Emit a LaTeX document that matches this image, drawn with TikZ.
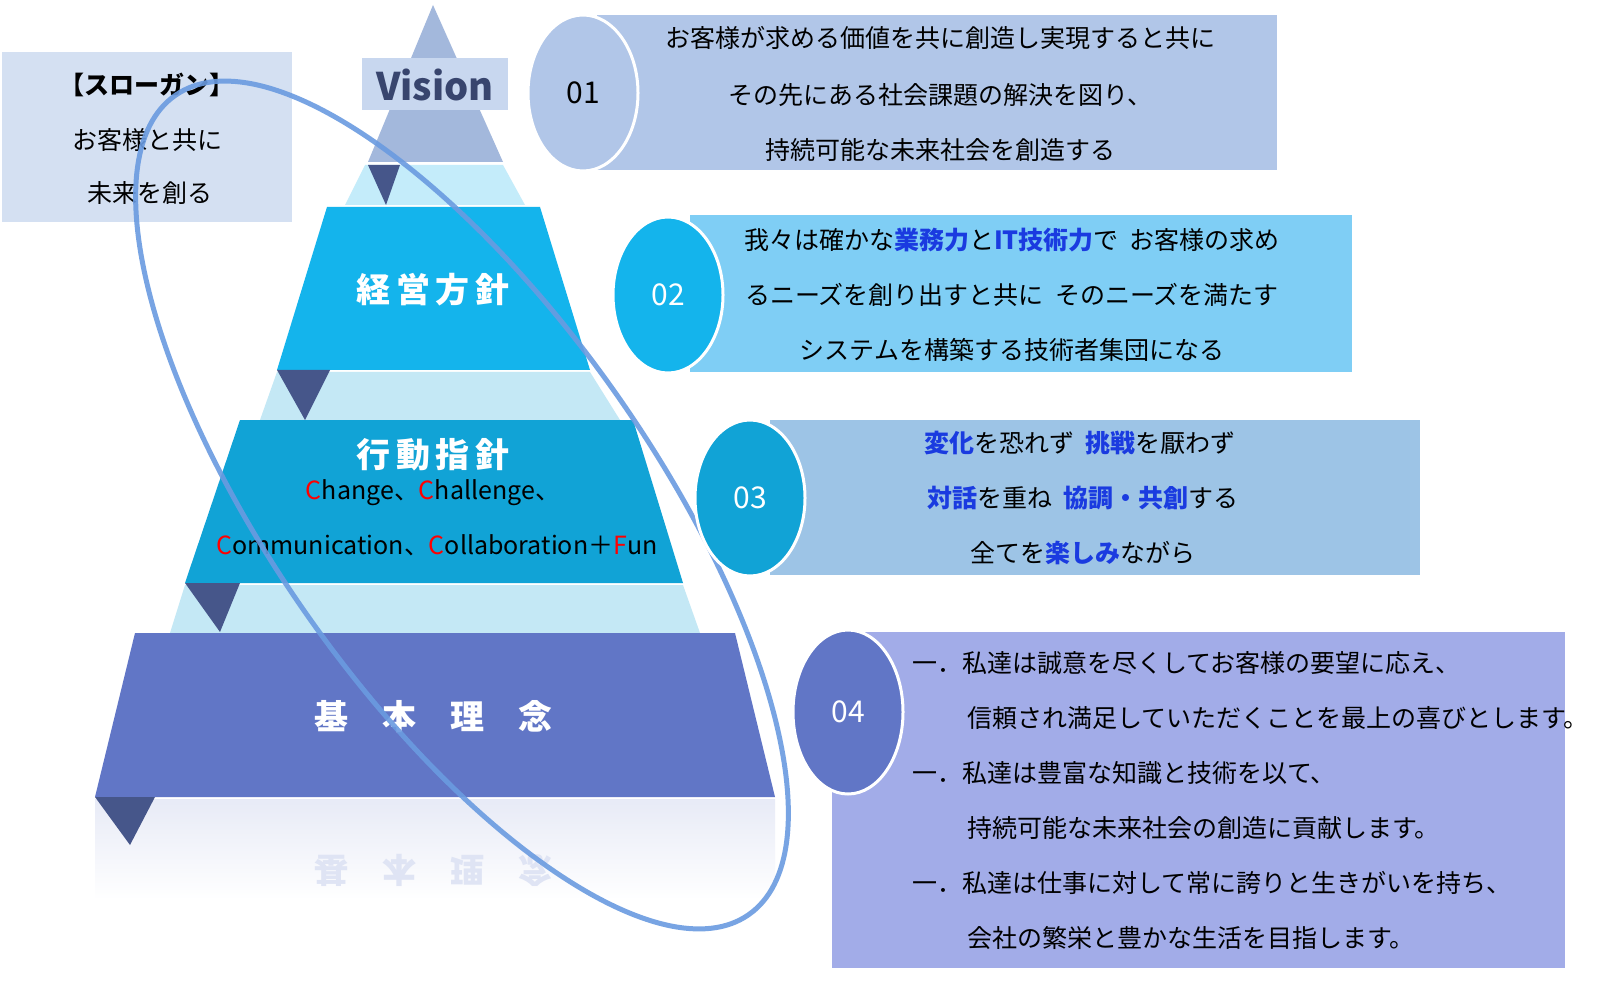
\documentclass[tikz,border=0pt]{standalone}
\usepackage{fontspec}
\setmainfont{Noto Sans CJK JP}
\usetikzlibrary{shapes.geometric}
\definecolor{c1}{HTML}{B1C6E8}
\definecolor{c1d}{HTML}{A3B8DC}
\definecolor{c2}{HTML}{14B4EC}
\definecolor{c2b}{HTML}{7FCEF5}
\definecolor{c3}{HTML}{11A3D6}
\definecolor{c3b}{HTML}{9DC4E6}
\definecolor{c4}{HTML}{6176C6}
\definecolor{c4b}{HTML}{A2ACE8}
\definecolor{dk}{HTML}{46568A}
\definecolor{bl}{HTML}{1A3BE0}
\definecolor{ring}{HTML}{6A9BE0}
\tikzset{
 txt/.style={font=\fontsize{12.5}{14}\selectfont, text=black},
 num/.style={font=\fontsize{15}{17}\selectfont},
 tier/.style={font=\fontsize{17}{20}\bfseries\selectfont, text=white},
 circ/.style={ellipse, draw=white, line width=1.5pt, minimum width=55pt, minimum height=78pt, inner sep=0pt}
}
\newcommand{\bb}[1]{{\bfseries\color{bl}#1}}
\newcommand{\rc}[1]{{\color{red}#1}}
\begin{document}
\begin{tikzpicture}[x=0.5pt,y=-0.5pt]
\useasboundingbox (0,0) rectangle (1600,994);
\fill[white] (0,0) rectangle (1600,994);
% slogan
\fill[c1!55] (2,52) rectangle (292,222);
\node[txt,font=\fontsize{12.5}{14}\bfseries\selectfont] (s1) at (147,85) {【スローガン】};
\node[txt] (s2) at (147,140) {お客様と共に};
\node[txt] (s3) at (150,193) {未来を創る};
% pyramid reflections
\fill[c2!25] (365,165) -- (503,165) -- (525,205) -- (345,205) -- cycle;
\fill[c3!25] (277,372) -- (590,372) -- (620,420) -- (260,420) -- cycle;
\fill[c3!25] (185,585) -- (683,585) -- (700,633) -- (170,633) -- cycle;
\shade[top color=c4!15, bottom color=white] (95,799) rectangle (775,900);
% tiers
\fill[c1d] (433,5) -- (503,162) -- (368,162) -- cycle;
\fill[c1!70] (362,58) rectangle (508,110);
\node[font=\fontsize{19}{22}\bfseries\selectfont, text=dk!80!black] (vis) at (435,85) {Vision};
\fill[dk] (368,165) -- (400,165) -- (386,205) -- cycle;
\fill[c2] (327,207) -- (540,207) -- (590,370) -- (277,370) -- cycle;
\node[tier] (t2) at (433,290) {経\,営\,方\,針};
\fill[dk] (277,370) -- (330,370) -- (305,420) -- cycle;
\fill[c3] (240,420) -- (633,420) -- (683,583) -- (185,583) -- cycle;
\node[tier] (t3) at (433,455) {行\,動\,指\,針};
\node[font=\fontsize{12.5}{14}\selectfont] (t3a) at (433,493) {\rc{C}hange、\rc{C}hallenge、};
\node[font=\fontsize{12.5}{14}\selectfont] (t3b) at (437,545) {\rc{C}ommunication、\rc{C}ollaboration＋\rc{F}un};
\fill[dk] (185,583) -- (240,583) -- (220,632) -- cycle;
\fill[c4] (135,633) -- (735,633) -- (775,797) -- (95,797) -- cycle;
\node[tier] (t4) at (433,717) {基\quad 本\quad 理\quad 念};
\fill[dk] (95,797) -- (155,797) -- (130,845) -- cycle;
\node[tier,text=c4!20,yscale=-1] (t4r) at (433,870) {基\quad 本\quad 理\quad 念};
% ring
\draw[ring, line width=2.5pt, opacity=0.9] (462,505) ellipse [x radius=500, y radius=190, rotate=-55];
% row 1
\fill[c1] (597,15) rectangle (1277,170);
\node[circ, fill=c1] (n1) at (583,93) {};
\node[num] at (n1) {01};
\node[txt] (r1a) at (940,38) {お客様が求める価値を共に創造し実現すると共に};
\node[txt] (r1b) at (940,95) {その先にある社会課題の解決を図り、};
\node[txt] (r1c) at (940,150) {持続可能な未来社会を創造する};
% row 2
\fill[c2b] (690,215) rectangle (1352,372);
\node[circ, fill=c2] (n2) at (668,295) {};
\node[num, text=white] at (n2) {02};
\node[txt] (r2a) at (1012,240) {我々は確かな\bb{業務力}と\bb{IT技術力}で\ \ お客様の求め};
\node[txt] (r2b) at (1012,295) {るニーズを創り出すと共に\ \ そのニーズを満たす};
\node[txt] (r2c) at (1012,350) {システムを構築する技術者集団になる};
% row 3
\fill[c3b] (770,420) rectangle (1420,575);
\node[circ, fill=c3] (n3) at (750,498) {};
\node[num, text=white] at (n3) {03};
\node[txt] (r3a) at (1080,443) {\bb{変化}を恐れず\ \ \bb{挑戦}を厭わず};
\node[txt] (r3b) at (1083,498) {\bb{対話}を重ね\ \ \bb{協調・共創}する};
\node[txt] (r3c) at (1083,553) {全てを\bb{楽しみ}ながら};
% row 4
\fill[c4b] (832,632) rectangle (1565,968);
\node[circ, fill=c4, minimum height=82pt] (n4) at (848,712) {};
\node[num, text=white] at (n4) {04};
\node[txt, anchor=west] (r4a) at (905,663) {一．私達は誠意を尽くしてお客様の要望に応え、};
\node[txt, anchor=west] (r4b) at (960,718) {信頼され満足していただくことを最上の喜びとします。};
\node[txt, anchor=west] (r4c) at (905,773) {一．私達は豊富な知識と技術を以て、};
\node[txt, anchor=west] (r4d) at (960,828) {持続可能な未来社会の創造に貢献します。};
\node[txt, anchor=west] (r4e) at (905,883) {一．私達は仕事に対して常に誇りと生きがいを持ち、};
\node[txt, anchor=west] (r4f) at (960,938) {会社の繁栄と豊かな生活を目指します。};
\end{tikzpicture}
\end{document}
